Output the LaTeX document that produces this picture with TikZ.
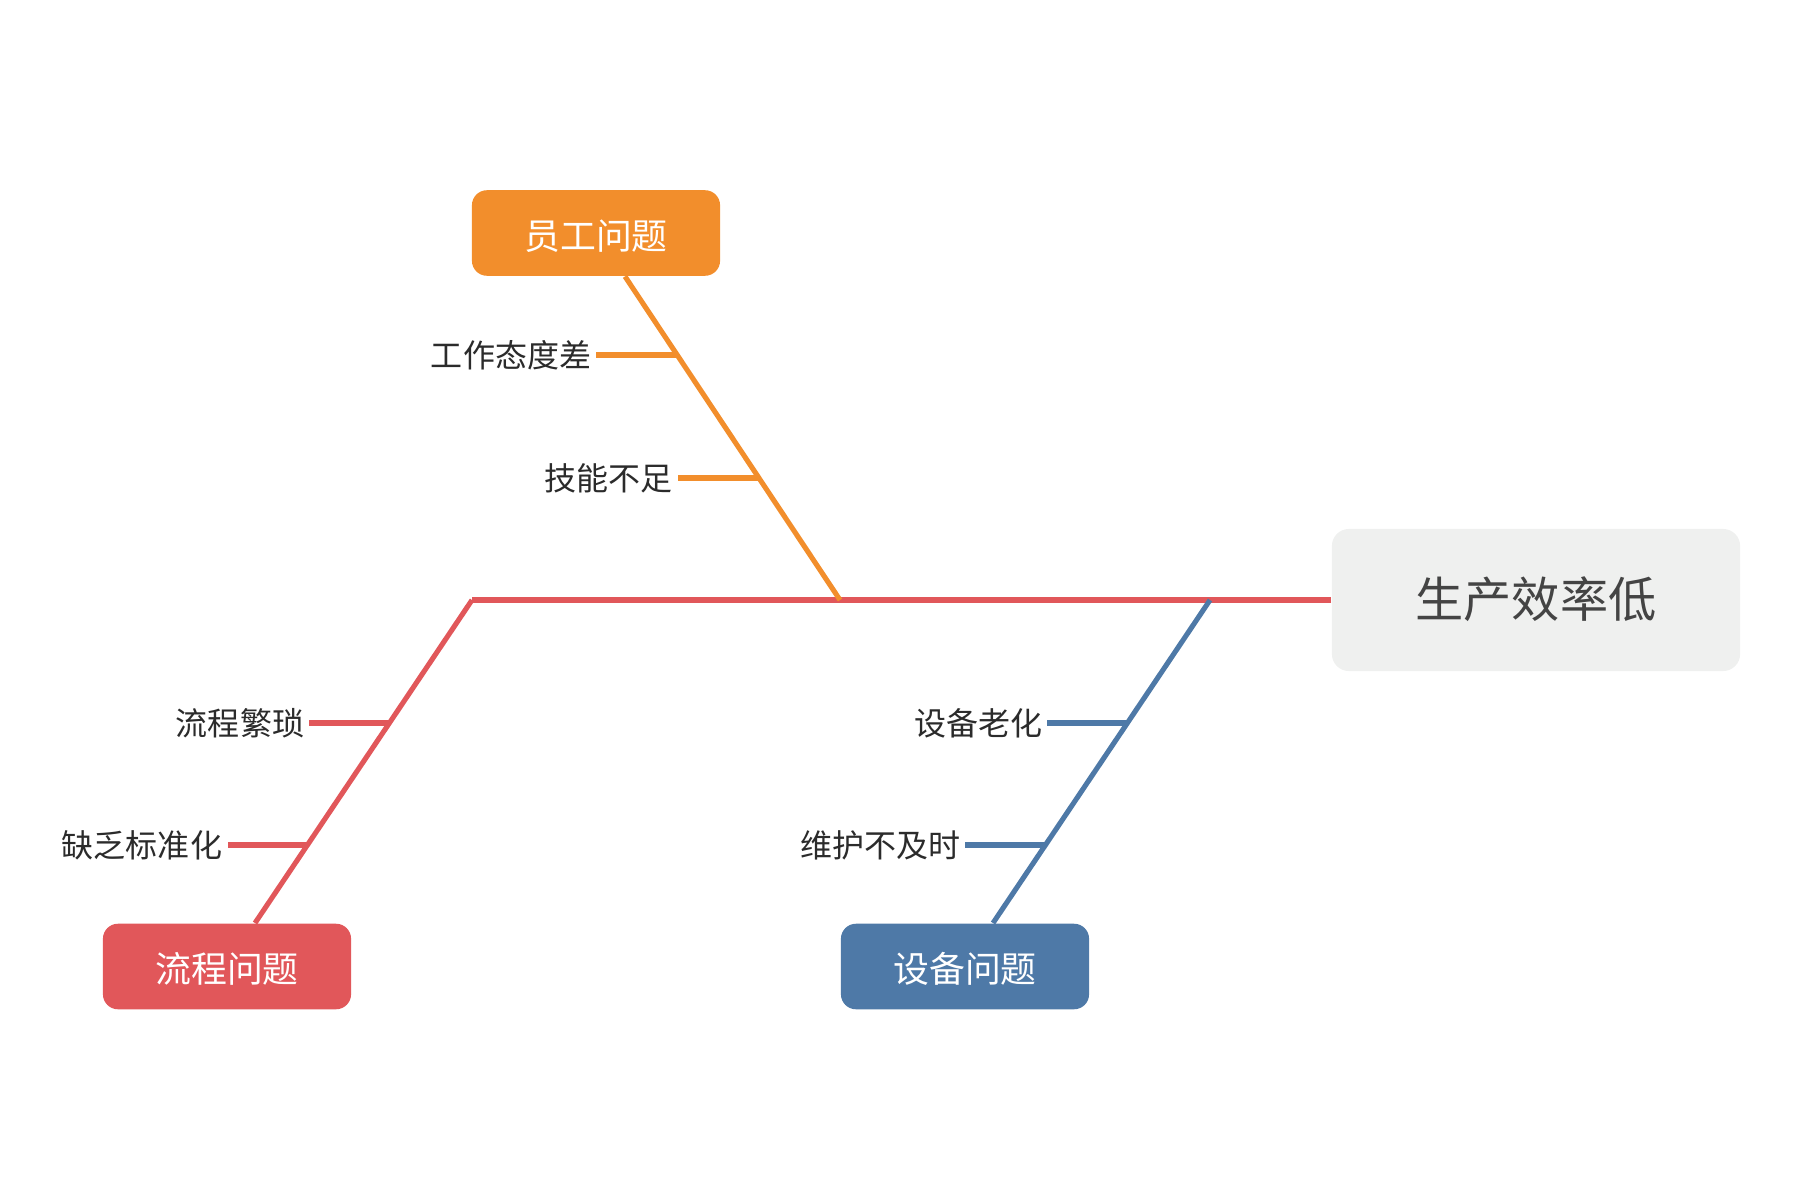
\documentclass[tikz,border=0pt]{standalone}
\usepackage{fontspec}
\setmainfont{Noto Sans CJK SC}
\usetikzlibrary{calc}
\definecolor{cOrange}{HTML}{F28E2C}
\definecolor{cRed}{HTML}{E1575A}
\definecolor{cBlue}{HTML}{4E79A7}
\definecolor{cGreyBox}{HTML}{EFF0EF}
\definecolor{cTitle}{HTML}{444444}
\definecolor{cLabel}{HTML}{2B2B2B}
\begin{document}
\begin{tikzpicture}[x=0.01cm,y=-0.01cm,
  bone/.style={line width=1.45pt},
  catbox/.style={rounded corners=0.15cm, minimum width=2.48cm, minimum height=0.855cm,
    inner sep=0pt, text=white, text height=1.05em, text depth=0.12em,
    font=\fontsize{10.2pt}{12pt}\selectfont},
  headbox/.style={rounded corners=0.17cm, fill=cGreyBox, minimum width=4.08cm,
    minimum height=1.42cm, inner sep=0pt, text=cTitle, text height=1.14em, text depth=0.12em,
    font=\fontsize{13.7pt}{16pt}\selectfont},
  cause/.style={anchor=east, inner sep=0pt, outer sep=0pt, text=cLabel,
    font=\fontsize{9.1pt}{11pt}\selectfont}
]
\useasboundingbox (0,0) rectangle (1800,1200);

% head of the fish
\node[headbox] (head) at (1536,600) {生产效率低};

% category boxes
\node[catbox, fill=cOrange] (staff) at (596,233) {员工问题};
\node[catbox, fill=cRed] (proc) at (227,966.5) {流程问题};
\node[catbox, fill=cBlue] (equip) at (965,966.5) {设备问题};

% joints on the spine
\coordinate (tail) at (472,600);
\coordinate (jstaff) at (840,600);
\coordinate (jequip) at (1210,600);

% spine and main bones
\draw[bone, cRed] (head.west) -- (tail);
\draw[bone, cRed, line join=miter] (tail) -- ([xshift=0.28cm]proc.north);
\draw[bone, cOrange] ([xshift=0.29cm]staff.south) -- (jstaff);
\draw[bone, cBlue] (jequip) -- ([xshift=0.28cm]equip.north);

% points where the small bones meet the main bones
\coordinate (s1) at (678,355);
\coordinate (s2) at (760,478);
\coordinate (p1) at (389,723);
\coordinate (p2) at (307,845);
\coordinate (e1) at (1127,723);
\coordinate (e2) at (1045,845);

% causes
\node[cause] (s1t) at (591,355) {工作态度差};
\node[cause] (s2t) at (672,478) {技能不足};
\node[cause] (p1t) at (304,723) {流程繁琐};
\node[cause] (p2t) at (222,845) {缺乏标准化};
\node[cause] (e1t) at (1042,723) {设备老化};
\node[cause] (e2t) at (960,845) {维护不及时};

% small bones
\draw[bone, cOrange] ([xshift=0.05cm]s1t.east |- s1) -- (s1);
\draw[bone, cOrange] ([xshift=0.06cm]s2t.east |- s2) -- (s2);
\draw[bone, cRed] ([xshift=0.05cm]p1t.east |- p1) -- (p1);
\draw[bone, cRed] ([xshift=0.06cm]p2t.east |- p2) -- (p2);
\draw[bone, cBlue] ([xshift=0.05cm]e1t.east |- e1) -- (e1);
\draw[bone, cBlue] ([xshift=0.05cm]e2t.east |- e2) -- (e2);
\end{tikzpicture}
\end{document}
